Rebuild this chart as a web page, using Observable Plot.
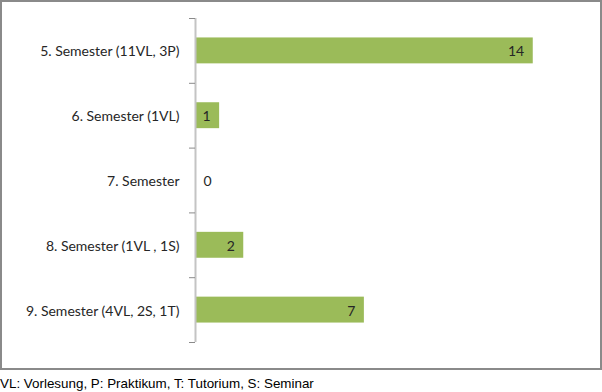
<!DOCTYPE html>
<html>
<head>
<meta charset="utf-8">
<script src="https://cdn.jsdelivr.net/npm/d3@7"></script>
<script src="https://cdn.jsdelivr.net/npm/@observablehq/plot@0.6"></script>
<style>
  html, body { margin: 0; padding: 0; background: #fff; }
  #wrap { position: relative; width: 602px; height: 392px; overflow: hidden; }
  #chart { position: absolute; left: 0; top: 0; width: 598px; height: 366px; border: 2px solid #8a8a8a; }
  #chart svg { display: block; }
  #caption { position: absolute; left: 0; top: 376px; font-family: "Liberation Sans", Arial, sans-serif; font-size: 13.4px; line-height: 15px; color: #000; white-space: nowrap; }
</style>
</head>
<body>
<div id="wrap">
  <div id="chart"></div>
  <div id="caption"></div>
</div>
<script>
const categories = [
  "5. Semester (11VL, 3P)",
  "6. Semester (1VL)",
  "7. Semester",
  "8. Semester (1VL , 1S)",
  "9. Semester (4VL, 2S, 1T)"
];
const values = [14, 1, 0, 2, 7];
const captionText = "VL: Vorlesung, P: Praktikum, T: Tutorium, S: Seminar";

const data = categories.map((c, i) => ({c, v: values[i], i}));
const labelTicks = categories.map((c, i) => i + 0.5);
const boundaryTicks = d3.range(categories.length + 1);

const chart = Plot.plot({
  width: 598,
  height: 366,
  marginLeft: 193,
  marginRight: 19,
  marginTop: 16,
  marginBottom: 26,
  style: {fontFamily: "Lato, 'Open Sans', sans-serif", fontSize: "14px", color: "#262626", background: "#fff"},
  x: {type: "linear", domain: [0, 16], axis: null},
  y: {type: "linear", domain: [0, categories.length], reverse: true, axis: null},
  marks: [
    Plot.rect(data.filter(d => d.v > 0), {x1: () => 0, x2: "v", y1: d => d.i + 0.3, y2: d => d.i + 0.7, fill: "#9BBB59", insetLeft: 1}),
    Plot.ruleX([0], {stroke: "#c4c4c4", strokeWidth: 2}),
    Plot.axisY(boundaryTicks, {tickSize: 6, tickFormat: () => "", stroke: "#8a8a8a", strokeWidth: 1}),
    Plot.axisY(labelTicks, {tickSize: 0, tickPadding: 16, dy: 1, tickFormat: d => categories[Math.round(d - 0.5)], fontSize: 14, fill: "#262626"}),
    Plot.text(data.filter(d => d.v > 0), {x: "v", y: d => d.i + 0.5, text: d => String(d.v), textAnchor: "end", dx: -9, dy: 1, fontSize: 14, fill: "#262626"}),
    Plot.text(data.filter(d => d.v === 0), {x: "v", y: d => d.i + 0.5, text: d => String(d.v), textAnchor: "start", dx: 8, dy: 1, fontSize: 14, fill: "#262626"})
  ]
});
document.getElementById("chart").appendChild(chart);
document.getElementById("caption").textContent = captionText;
</script>
</body>
</html>
